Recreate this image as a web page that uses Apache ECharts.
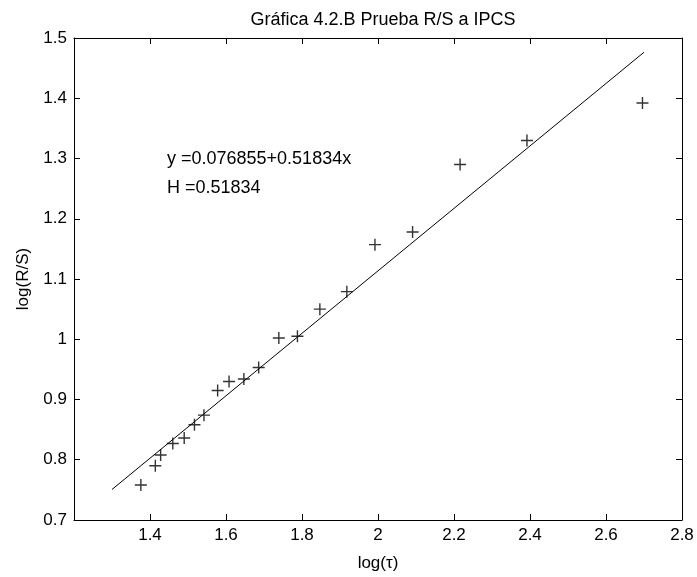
<!DOCTYPE html>
<html>
<head>
<meta charset="utf-8">
<script src="https://cdn.jsdelivr.net/npm/echarts@6/dist/echarts.min.js"></script>
<style>
  html, body { margin: 0; padding: 0; background: #fff; }
  #chart { width: 697px; height: 577px; }
</style>
</head>
<body>
<div id="chart"></div>
<script>
// log(tau) and log(R/S) for each sub-period length
const logTau = [1.376, 1.414, 1.428, 1.460, 1.490, 1.517, 1.542, 1.578, 1.608, 1.647,
                1.686, 1.739, 1.788, 1.847, 1.918, 1.992, 2.091, 2.216, 2.392, 2.696];
const logRS  = [0.758, 0.790, 0.808, 0.827, 0.836, 0.858, 0.874, 0.915, 0.930, 0.934,
                0.953, 1.002, 1.005, 1.050, 1.079, 1.157, 1.178, 1.290, 1.330, 1.392];

// Least-squares fit: log(R/S) = a + H * log(tau)
const fitIntercept = 0.076855;
const fitSlope = 0.51834;
const fitRange = [1.3, 2.7];

const xTicks = { min: 1.2, max: 2.8, interval: 0.2 };
const yTicks = { min: 0.7, max: 1.5, interval: 0.1 };

const FONT = '"Liberation Sans", Arial, sans-serif';

const points = logTau.map((x, i) => [x, logRS[i]]);
const fitLine = fitRange.map(x => [x, fitIntercept + fitSlope * x]);

const baseAxis = {
  type: 'value',
  axisLine: { show: true, onZero: false, lineStyle: { color: '#000', width: 1 } },
  axisTick: { show: true, inside: true, length: 6, lineStyle: { color: '#000' } },
  splitLine: { show: false }
};

const chart = echarts.init(document.getElementById('chart'), null, { renderer: 'canvas' });

chart.setOption({
  animation: false,
  backgroundColor: '#fff',
  title: {
    text: 'Gráfica 4.2.B Prueba R/S a IPCS',
    left: 378,
    top: 6,
    textAlign: 'center',
    textStyle: { fontFamily: FONT, fontSize: 18, fontWeight: 'normal', color: '#000' }
  },
  grid: { left: 74, right: 15, top: 38, bottom: 57, containLabel: false },
  xAxis: [
    Object.assign({}, baseAxis, {
      position: 'bottom',
      min: xTicks.min, max: xTicks.max, interval: xTicks.interval,
      name: 'log(τ)',
      nameLocation: 'middle',
      nameGap: 35,
      nameTextStyle: { fontFamily: FONT, fontSize: 17, color: '#000' },
      axisLabel: {
        margin: 7,
        fontFamily: FONT, fontSize: 17, color: '#000',
        formatter: v => (Math.abs(v - xTicks.min) < 1e-9 ? '' : String(+v.toFixed(1)))
      }
    }),
    Object.assign({}, baseAxis, {
      position: 'top',
      min: xTicks.min, max: xTicks.max, interval: xTicks.interval,
      axisLabel: { show: false }
    })
  ],
  yAxis: [
    Object.assign({}, baseAxis, {
      position: 'left',
      min: yTicks.min, max: yTicks.max, interval: yTicks.interval,
      name: 'log(R/S)',
      nameLocation: 'middle',
      nameGap: 42,
      nameRotate: 90,
      nameTextStyle: { fontFamily: FONT, fontSize: 17, color: '#000' },
      axisLabel: {
        margin: 7,
        fontFamily: FONT, fontSize: 17, color: '#000',
        formatter: v => String(+v.toFixed(1))
      }
    }),
    Object.assign({}, baseAxis, {
      position: 'right',
      min: yTicks.min, max: yTicks.max, interval: yTicks.interval,
      axisLabel: { show: false }
    })
  ],
  series: [
    {
      type: 'line',
      data: fitLine,
      xAxisIndex: 0, yAxisIndex: 0,
      showSymbol: false,
      symbol: 'none',
      lineStyle: { color: '#000', width: 1 },
      z: 2
    },
    {
      type: 'scatter',
      data: points,
      xAxisIndex: 0, yAxisIndex: 0,
      symbol: 'path://M5.3,0H6.7V5.3H12V6.7H6.7V12H5.3V6.7H0V5.3H5.3Z',
      symbolSize: 12,
      itemStyle: { color: '#000' },
      z: 3
    }
  ],
  graphic: [
    {
      type: 'text',
      x: 167, y: 159,
      style: {
        text: 'y =' + fitIntercept + '+' + fitSlope + 'x',
        font: '18px ' + FONT,
        fill: '#000',
        verticalAlign: 'middle'
      }
    },
    {
      type: 'text',
      x: 167, y: 188,
      style: {
        text: 'H =' + fitSlope,
        font: '18px ' + FONT,
        fill: '#000',
        verticalAlign: 'middle'
      }
    }
  ]
});
</script>
</body>
</html>
